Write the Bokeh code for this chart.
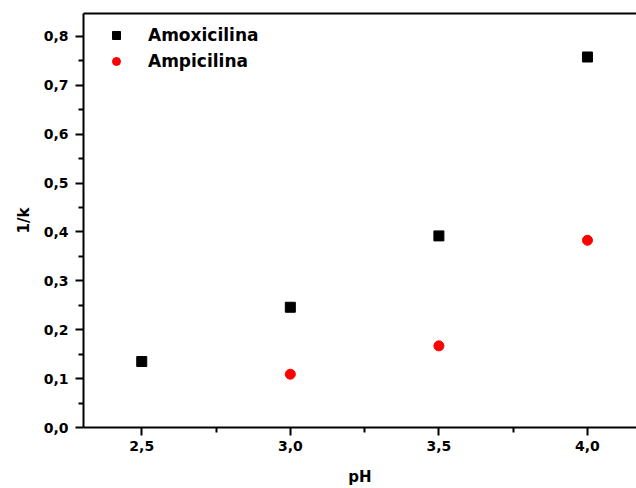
from bokeh.embed import file_html
from bokeh.models import (ColumnDataSource, FixedTicker, Legend, LegendItem,
                          LinearAxis, Range1d)
from bokeh.plotting import figure
from bokeh.resources import INLINE

# Inverse retention factor (1/k) against mobile-phase pH
ph_amox = [2.5, 3.0, 3.5, 4.0]
inv_k_amox = [0.135, 0.246, 0.392, 0.758]

ph_amp = [3.0, 3.5, 4.0]
inv_k_amp = [0.109, 0.167, 0.383]

x_ticks = [2.5, 3.0, 3.5, 4.0]
x_tick_labels = ["2,5", "3,0", "3,5", "4,0"]
x_minor = [2.75, 3.25, 3.75]

y_ticks = [0.0, 0.1, 0.2, 0.3, 0.4, 0.5, 0.6, 0.7, 0.8]
y_tick_labels = ["0,0", "0,1", "0,2", "0,3", "0,4", "0,5", "0,6", "0,7", "0,8"]
y_minor = [0.05, 0.15, 0.25, 0.35, 0.45, 0.55, 0.65, 0.75]

FONT = "DejaVu Sans"

p = figure(width=636, height=488, output_backend="svg", toolbar_location=None,
           x_range=Range1d(2.304, 4.165), y_range=Range1d(0.0, 0.847),
           x_axis_type=None, y_axis_type=None,
           min_border_left=83, min_border_right=0, min_border_top=13,
           min_border_bottom=61)
p.xgrid.visible = False
p.ygrid.visible = False
p.outline_line_color = None
p.background_fill_color = "white"
p.border_fill_color = "white"


def style_axis(ax):
    ax.axis_line_width = 2
    ax.axis_line_color = "black"
    ax.major_tick_line_width = 2
    ax.minor_tick_line_width = 2
    ax.major_tick_in = 0
    ax.major_tick_out = 8
    ax.minor_tick_in = 0
    ax.minor_tick_out = 5
    ax.major_label_text_font = FONT
    ax.major_label_text_font_style = "bold"
    ax.major_label_text_font_size = "14px"
    ax.major_label_text_color = "black"
    ax.axis_label_text_font = FONT
    ax.axis_label_text_font_style = "bold"
    ax.axis_label_text_font_size = "15px"
    ax.axis_label_text_color = "black"


xaxis = LinearAxis(ticker=FixedTicker(ticks=x_ticks, minor_ticks=x_minor),
                   major_label_overrides=dict(zip(x_ticks, x_tick_labels)),
                   axis_label="pH")
style_axis(xaxis)
xaxis.major_label_standoff = 5
xaxis.axis_label_standoff = 14
p.add_layout(xaxis, "below")

yaxis = LinearAxis(ticker=FixedTicker(ticks=y_ticks, minor_ticks=y_minor),
                   major_label_overrides=dict(zip(y_ticks, y_tick_labels)),
                   axis_label="1/k")
style_axis(yaxis)
yaxis.major_label_standoff = 7
yaxis.axis_label_standoff = 8
p.add_layout(yaxis, "left")

# plain top frame line, no ticks
top = LinearAxis(ticker=FixedTicker(ticks=[]))
top.axis_line_width = 2
top.major_tick_line_color = None
top.minor_tick_line_color = None
top.major_label_text_font_size = "0px"
p.add_layout(top, "above")

src_amox = ColumnDataSource(dict(x=ph_amox, y=inv_k_amox))
src_amp = ColumnDataSource(dict(x=ph_amp, y=inv_k_amp))

r_amox = p.scatter("x", "y", source=src_amox, marker="square", size=10,
                   fill_color="black", line_color="black")
r_amp = p.scatter("x", "y", source=src_amp, marker="circle", size=10,
                  fill_color="#ff0000", line_color="#ff0000")

legend = Legend(items=[LegendItem(label="Amoxicilina", renderers=[r_amox]),
                       LegendItem(label="Ampicilina", renderers=[r_amp])],
                location=(23, 353))
legend.border_line_color = None
legend.background_fill_alpha = 0
legend.padding = 0
legend.margin = 0
legend.spacing = 0
legend.glyph_width = 20
legend.glyph_height = 26
legend.label_height = 26
legend.label_standoff = 22
legend.label_text_font = FONT
legend.label_text_font_style = "bold"
legend.label_text_font_size = "17px"
legend.label_text_color = "black"
legend.label_text_baseline = "middle"
p.add_layout(legend, "center")

open("out.html", "w").write(file_html(p, INLINE))
